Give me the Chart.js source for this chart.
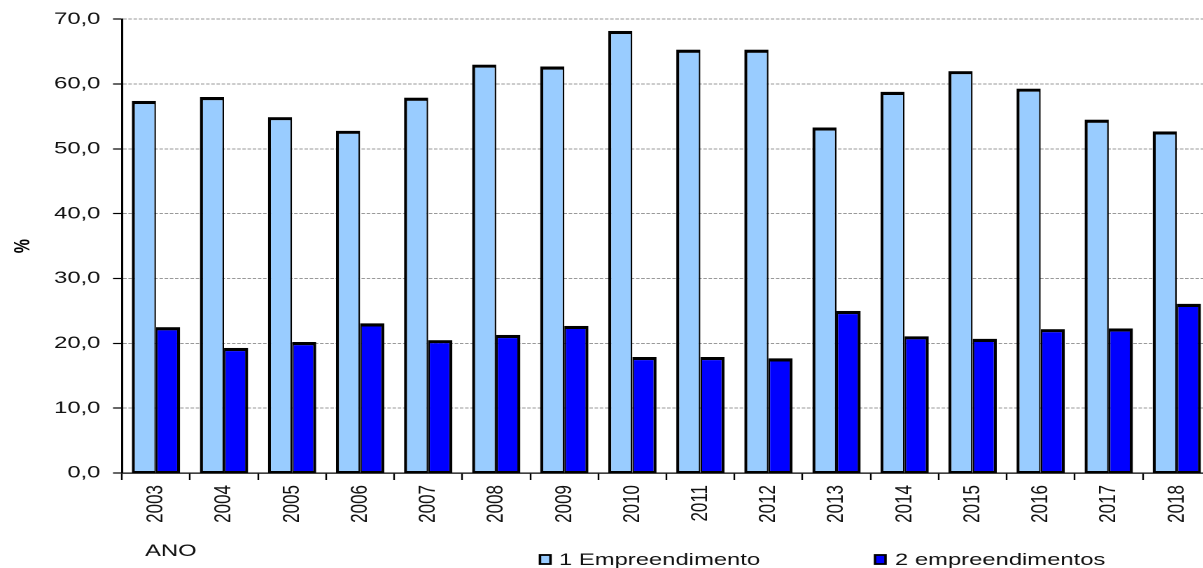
<!DOCTYPE html>
<html>
<head>
<meta charset="utf-8">
<script src="https://cdn.jsdelivr.net/npm/chart.js@4.4.1/dist/chart.umd.min.js"></script>
<style>
  html, body { margin: 0; padding: 0; background: #fff; overflow: hidden; }
  #wrap { position: absolute; left: 0; top: 0; width: 866px; height: 568px; transform: scaleX(1.4); transform-origin: 0 0; }
</style>
</head>
<body>
<div id="wrap"><canvas id="anoChart" width="866" height="568"></canvas></div>
<script>
(function () {
  'use strict';

  const years = ['2003', '2004', '2005', '2006', '2007', '2008', '2009', '2010',
                 '2011', '2012', '2013', '2014', '2015', '2016', '2017', '2018'];
  const umEmpreendimento = [57.4, 58.0, 54.9, 52.8, 57.9, 63.0, 62.7, 68.2,
                            65.3, 65.3, 53.3, 58.8, 62.0, 59.3, 54.5, 52.7];
  const doisEmpreendimentos = [22.5, 19.3, 20.2, 23.1, 20.5, 21.3, 22.7, 17.9,
                               17.9, 17.7, 25.0, 21.1, 20.7, 22.2, 22.3, 26.1];
  const seriesNames = ['1 Empreendimento', '2 empreendimentos'];
  const xTitle = 'ANO';
  const yTitle = '%';

  const FONT = '"Liberation Sans", Arial, sans-serif';
  const textColor = '#111';

  // the source picture is stretched sideways, so the canvas is drawn narrow and scaled by css
  const bottomNotes = {
    id: 'bottomNotes',
    afterDraw(chart) {
      const ctx = chart.ctx;
      ctx.save();
      ctx.font = '17px ' + FONT;
      ctx.fillStyle = textColor;
      ctx.textBaseline = 'alphabetic';
      ctx.fillText(xTitle, 103.6, 556);

      const items = [
        { box: 385.7, text: 399.3 },
        { box: 625.0, text: 639.3 }
      ];
      chart.data.datasets.forEach((ds, i) => {
        const it = items[i];
        ctx.fillStyle = ds.backgroundColor;
        ctx.fillRect(it.box, 555, 7.5, 9);
        ctx.strokeStyle = '#000';
        ctx.lineWidth = 1.8;
        ctx.strokeRect(it.box, 555, 7.5, 9);
        ctx.fillStyle = textColor;
        ctx.fillText(ds.label, it.text, 565);
      });
      ctx.restore();
    }
  };

  const canvas = document.getElementById('anoChart');
  new Chart(canvas.getContext('2d'), {
    type: 'bar',
    data: {
      labels: years,
      datasets: [{
        label: seriesNames[0],
        data: umEmpreendimento,
        backgroundColor: '#99CCFF',
        borderColor: '#000',
        borderWidth: { left: 2.2, right: 1.2, top: 3.2, bottom: 1.5 },
        borderSkipped: false,
        inflateAmount: 0,
        categoryPercentage: 0.71,
        barPercentage: 1.0
      }, {
        label: seriesNames[1],
        data: doisEmpreendimentos,
        backgroundColor: '#0000FF',
        borderColor: '#000',
        borderWidth: { left: 1.2, right: 2.2, top: 3.2, bottom: 1.5 },
        borderSkipped: false,
        inflateAmount: 0,
        categoryPercentage: 0.71,
        barPercentage: 1.0
      }]
    },
    options: {
      responsive: false,
      animation: false,
      devicePixelRatio: 2,
      layout: { padding: { top: 18, right: 1, left: 0, bottom: 0 } },
      plugins: {
        legend: { display: false },
        tooltip: { enabled: false }
      },
      scales: {
        x: {
          grid: {
            drawOnChartArea: false,
            tickLength: 7,
            tickColor: '#000',
            tickWidth: 1.2
          },
          border: { color: '#000', width: 1.2 },
          ticks: {
            minRotation: 90,
            maxRotation: 90,
            padding: 5,
            color: textColor,
            font: { family: FONT, size: 17 }
          },
          afterFit: s => { s.height = 95; }
        },
        y: {
          min: 0,
          max: 70,
          ticks: {
            stepSize: 10,
            padding: 9,
            color: textColor,
            font: { family: FONT, size: 17 },
            callback: v => Number(v).toFixed(1).replace('.', ',')
          },
          grid: {
            color: '#999',
            lineWidth: 1,
            tickLength: 6.4,
            tickColor: '#000',
            tickWidth: 1.2,
            tickBorderDash: []
          },
          border: { color: '#000', width: 1.5, dash: [2.5, 1.2] },
          title: {
            display: true,
            text: yTitle,
            color: '#000',
            font: { family: FONT, size: 16, weight: 'bold' },
            padding: { top: 7, bottom: 0 }
          },
          afterFit: s => { s.width = 87.1; }
        }
      }
    },
    plugins: [bottomNotes]
  });
})();
</script>
</body>
</html>
